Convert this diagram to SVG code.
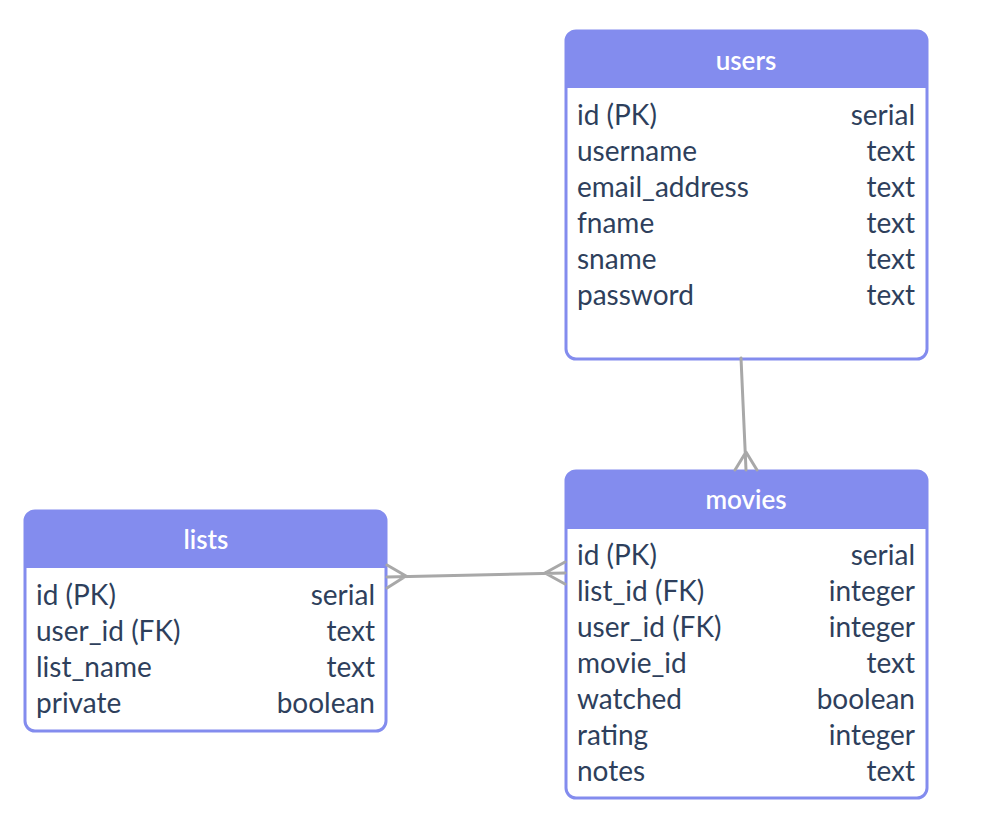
<svg xmlns="http://www.w3.org/2000/svg" width="991" height="839" viewBox="0 0 991 839">
<style>
.box{fill:#fff;stroke:#838CEE;stroke-width:3}
.hdr{fill:#838CEE}
.title{font-family:Lato,"Liberation Sans",sans-serif;font-size:26px;font-weight:600;fill:#fff;text-anchor:middle}
.f{font-family:Lato,"Liberation Sans",sans-serif;font-size:28px;fill:#2E3F5C}
.r{text-anchor:end}
.c{fill:none;stroke:#A8A8A8;stroke-width:3;stroke-linecap:round}
</style>
<rect width="991" height="839" fill="#fff"/>
<g id="users">
<rect class="box" x="566" y="31" width="361" height="328" rx="10"/>
<path class="hdr" d="M566,88 V41 A10,10 0 0 1 576,31 H917 A10,10 0 0 1 927,41 V88 Z"/>
<text class="title" x="746" y="70">users</text>
<text class="f" x="577" y="125">id (PK)</text><text class="f r" x="915" y="125">serial</text>
<text class="f" x="577" y="161">username</text><text class="f r" x="915" y="161">text</text>
<text class="f" x="577" y="197">email_address</text><text class="f r" x="915" y="197">text</text>
<text class="f" x="577" y="233">fname</text><text class="f r" x="915" y="233">text</text>
<text class="f" x="577" y="269">sname</text><text class="f r" x="915" y="269">text</text>
<text class="f" x="577" y="305">password</text><text class="f r" x="915" y="305">text</text>
</g>
<g id="movies">
<rect class="box" x="566" y="471" width="361" height="327" rx="10"/>
<path class="hdr" d="M566,529 V481 A10,10 0 0 1 576,471 H917 A10,10 0 0 1 927,481 V529 Z"/>
<text class="title" x="746" y="509">movies</text>
<text class="f" x="577" y="565">id (PK)</text><text class="f r" x="915" y="565">serial</text>
<text class="f" x="577" y="601">list_id (FK)</text><text class="f r" x="915" y="601">integer</text>
<text class="f" x="577" y="637">user_id (FK)</text><text class="f r" x="915" y="637">integer</text>
<text class="f" x="577" y="673">movie_id</text><text class="f r" x="915" y="673">text</text>
<text class="f" x="577" y="709">watched</text><text class="f r" x="915" y="709">boolean</text>
<text class="f" x="577" y="745">rating</text><text class="f r" x="915" y="745">integer</text>
<text class="f" x="577" y="781">notes</text><text class="f r" x="915" y="781">text</text>
</g>
<g id="lists">
<rect class="box" x="25" y="511" width="361" height="220" rx="10"/>
<path class="hdr" d="M25,568 V521 A10,10 0 0 1 35,511 H376 A10,10 0 0 1 386,521 V568 Z"/>
<text class="title" x="206" y="549">lists</text>
<text class="f" x="36" y="605">id (PK)</text><text class="f r" x="375" y="605">serial</text>
<text class="f" x="36" y="641">user_id (FK)</text><text class="f r" x="375" y="641">text</text>
<text class="f" x="36" y="677">list_name</text><text class="f r" x="375" y="677">text</text>
<text class="f" x="36" y="713">private</text><text class="f r" x="375" y="713">boolean</text>
</g>
<g id="connectors">
<path class="c" d="M741,358 L746,470 M746,452 L735,470 M746,452 L757,470"/>
<path class="c" d="M387,577 L565,573 M406,576 L387,565 M406,576 L387,588 M545,573 L565,562 M545,573 L565,584"/>
</g>
</svg>
